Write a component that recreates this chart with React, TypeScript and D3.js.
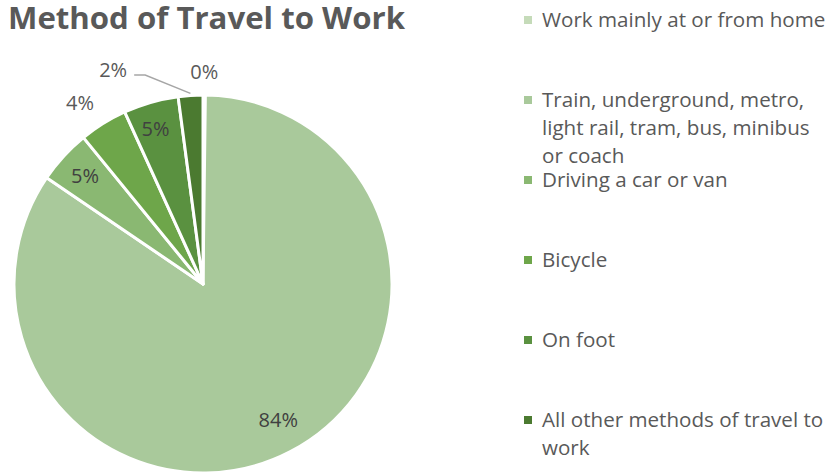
import React from "react";
import * as d3 from "d3";

const categories = [
  "Work mainly at or from home",
  "Train, underground, metro, light rail, tram, bus, minibus or coach",
  "Driving a car or van",
  "Bicycle",
  "On foot",
  "All other methods of travel to work",
];
const legendLines = [
  ["Work mainly at or from home"],
  ["Train, underground, metro,", "light rail, tram, bus, minibus", "or coach"],
  ["Driving a car or van"],
  ["Bicycle"],
  ["On foot"],
  ["All other methods of travel to", "work"],
];
const values = [0.2, 84.3, 4.6, 4.1, 4.7, 2.1];
const labels = ["0%", "84%", "5%", "4%", "5%", "2%"];
const colors = ["#c5dbb9", "#a9c99b", "#8ab872", "#6ea64a", "#5a9140", "#4b7a30"];

const W = 834;
const H = 475;
const cx = 203;
const cy = 284;
const R = 189;
const FONT = "'Open Sans', 'DejaVu Sans', sans-serif";

export default function App() {
  const pie = d3.pie<number>().sort(null).value((d) => d)(values);
  const arc = d3.arc<d3.PieArcDatum<number>>().innerRadius(0).outerRadius(R);

  const polar = (angle: number, r: number) => [
    cx + r * Math.sin(angle),
    cy - r * Math.cos(angle),
  ];
  const deg = Math.PI / 180;

  const legendY = d3.scaleLinear().domain([0, 5]).range([27, 427]);

  // label placement: inside / outside / callout, with radius and angular nudge
  const placement = ["outside", "inside", "inside", "outside", "inside", "callout"];
  const labelRadius = [212, 155, 160, 219, 162, 232];
  const labelNudge = [0, -1.5, 0, -2.3, -1, -19];

  return (
    <svg width={W} height={H} style={{ position: "absolute", left: 0, top: 0, background: "#fff" }}>
      <text x={8} y={29} fontFamily={FONT} fontWeight={700} fontSize={30} fill="#595959"
        textLength={397} lengthAdjust="spacingAndGlyphs">
        Method of Travel to Work
      </text>
      <g transform={`translate(${cx},${cy})`}>
        {pie.map((p, i) => (
          <path key={i} d={arc(p) || ""} fill={colors[i]} stroke="#fff" strokeWidth={3} strokeLinejoin="round" />
        ))}
      </g>
      {pie.map((p, i) => {
        const mid = (p.startAngle + p.endAngle) / 2;
        const pl = placement[i];
        const [x, y] = polar(mid + labelNudge[i] * deg, labelRadius[i]);
        if (pl === "callout") {
          const [ex, ey] = polar(mid, R + 2);
          const sx = x + 21;
          return (
            <g key={i}>
              <polyline points={`${sx},${y + 5} ${sx + 11},${y + 5} ${ex},${ey}`} fill="none" stroke="#a6a6a6" strokeWidth={1.5} />
              <text x={x} y={y + 7} textAnchor="middle" fontFamily={FONT} fontSize={20} fill="#595959">{labels[i]}</text>
            </g>
          );
        }
        return (
          <text key={i} x={x} y={y + 7} textAnchor="middle" fontFamily={FONT} fontSize={20}
            fill={pl === "inside" ? "#404040" : "#595959"}>{labels[i]}</text>
        );
      })}
      {categories.map((c, i) => {
        const y0 = legendY(i);
        return (
          <g key={c}>
            <rect x={524} y={y0 - 11} width={8} height={8} fill={colors[i]} />
            {legendLines[i].map((line, j) => (
              <text key={j} x={542} y={y0 + j * 28} fontFamily={FONT} fontSize={20.6} fill="#595959">{line}</text>
            ))}
          </g>
        );
      })}
    </svg>
  );
}
